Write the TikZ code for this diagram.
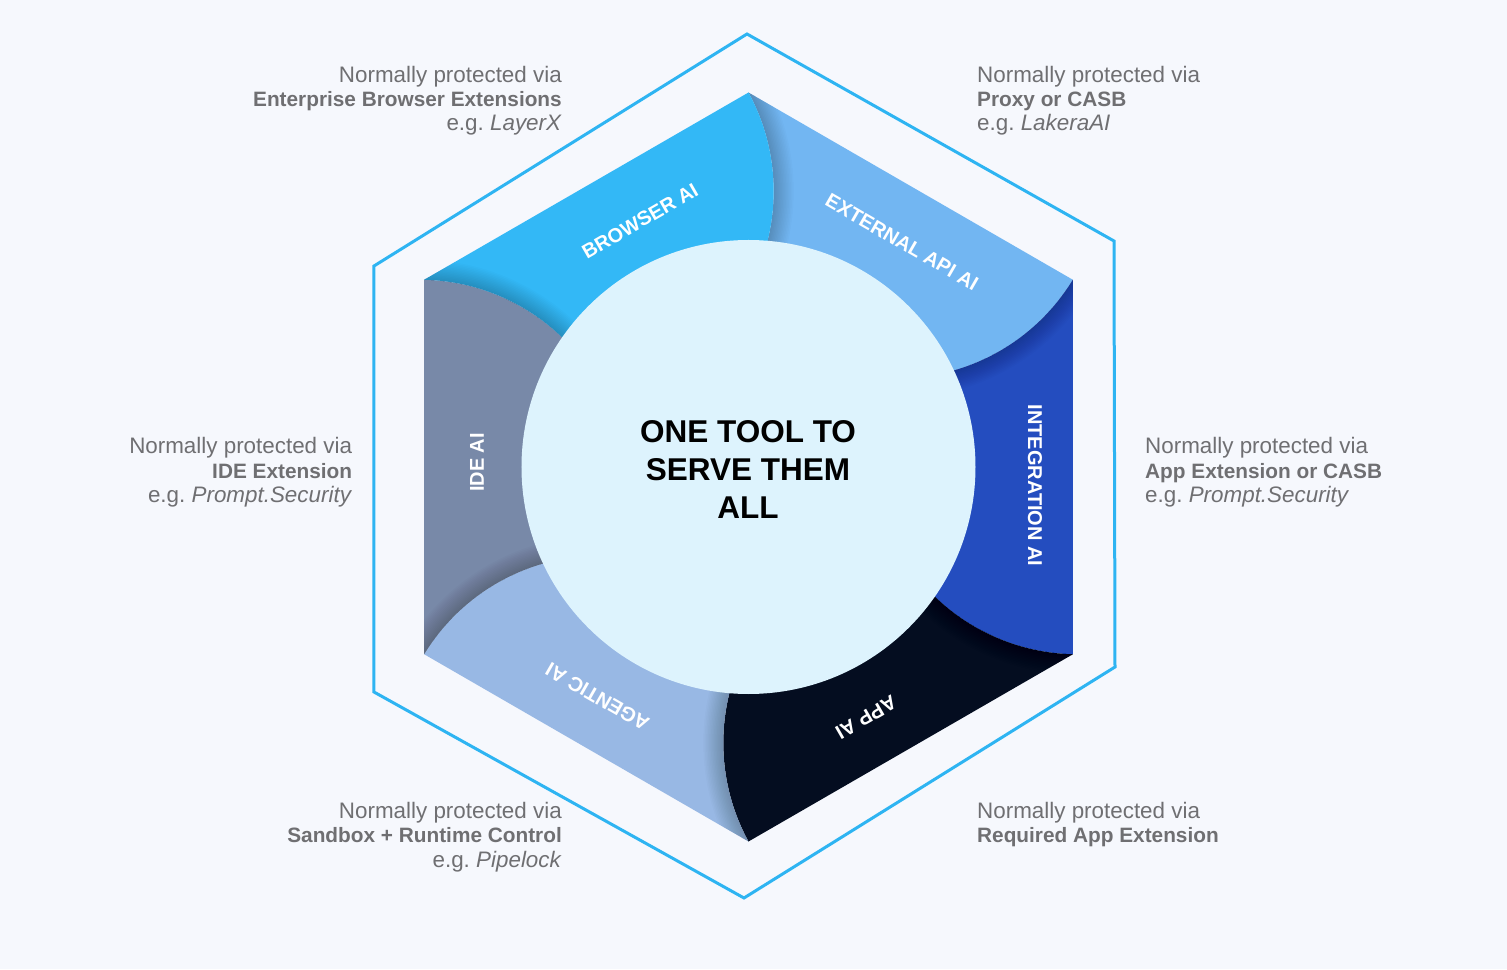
\documentclass[tikz,border=0pt]{standalone}
\usepackage{fontspec}
\setmainfont{Liberation Sans}
\frenchspacing
\definecolor{bgc}{HTML}{F6F8FD}
\definecolor{hexc}{HTML}{2EB4F2}
\definecolor{brc}{HTML}{33B8F6}
\definecolor{extc}{HTML}{72B6F2}
\definecolor{intc}{HTML}{244DBF}
\definecolor{appc}{HTML}{040D20}
\definecolor{agc}{HTML}{98B8E4}
\definecolor{idec}{HTML}{7889A8}
\definecolor{circc}{HTML}{DDF3FD}
\definecolor{txtc}{HTML}{6F6F72}
\newcommand\mysegpath[2]{(#1:374.5) -- (#2:374.5) .. controls ({#2-4.31}:330.1) and ({#2-6.53}:277.8) .. ({#2-4.81}:226.8) -- (0,0) -- ({#1-4.81}:226.8) .. controls ({#1-6.53}:277.8) and ({#1-4.31}:330.1) .. (#1:374.5) -- cycle}
\newcommand\mydivpath[1]{(#1:374.5) .. controls ({#1-4.31}:330.1) and ({#1-6.53}:277.8) .. ({#1-4.81}:226.8)}
\tikzset{
  annoR/.style={anchor=base east, inner sep=0pt, text=txtc, font=\fontsize{22.4}{26}\selectfont},
  annoRb/.style={anchor=base east, inner sep=0pt, text=txtc, font=\bfseries\fontsize{20.8}{26}\selectfont},
  annoL/.style={anchor=base west, inner sep=0pt, text=txtc, font=\fontsize{22.4}{26}\selectfont},
  annoLb/.style={anchor=base west, inner sep=0pt, text=txtc, font=\bfseries\fontsize{20.8}{26}\selectfont},
  seglabel/.style={inner sep=0pt, text=white, font=\bfseries\fontsize{20}{24}\selectfont},
  centertext/.style={anchor=base, inner sep=0pt, text=black, font=\bfseries\fontsize{31.5}{38}\selectfont},
  outerhex/.style={draw=hexc, line width=3pt, line join=miter}
}
\begin{document}
\begin{tikzpicture}[x=1pt,y=1pt]
\useasboundingbox (-748.5,-502) rectangle (758.5,467);
\fill[bgc] (-748.5,-502) rectangle (758.5,467);
% outer hexagon
\coordinate (o1) at (-1.5,433);
\coordinate (o2) at (365.5,226);
\coordinate (o3) at (366.5,-200);
\coordinate (o4) at (-4.5,-431);
\coordinate (o5) at (-374.5,-225);
\coordinate (o6) at (-374.5,201);
\draw[outerhex] (o1) -- (o2) -- (o3) -- (o4) -- (o5) -- (o6) -- cycle;
% segments
\foreach \j/\fc in {0/extc,1/intc,2/appc,3/agc,4/idec,5/brc}{
  \pgfmathsetmacro\a{90-60*\j}
  \pgfmathsetmacro\b{\a-60}
  \fill[\fc] \mysegpath{\a}{\b};
  \begin{scope}
    \clip \mysegpath{\a}{\b};
    \foreach \w in {40,37,...,1}{
      \draw[black,opacity=0.014,line width=\w pt] \mydivpath{\a};
    }
  \end{scope}
}
% central circle
\fill[circc] (0,0) circle (227);
\node[centertext] (c1) at (-0.5,24.3) {ONE TOOL TO};
\node[centertext] (c2) at (-0.5,-14) {SERVE THEM};
\node[centertext] (c3) at (-0.5,-51.3) {ALL};
% segment labels
\node[seglabel, rotate=30] (lbr) at (-108.5,246) {BROWSER AI};
\node[seglabel, rotate=-30] (lext) at (153.5,225) {EXTERNAL API AI};
\node[seglabel, rotate=-90] (lint) at (286.5,-18.5) {INTEGRATION AI};
\node[seglabel, rotate=-150] (lapp) at (117.5,-250.5) {APP AI};
\node[seglabel, rotate=150] (lag) at (-151,-230) {AGENTIC AI};
\node[seglabel, rotate=90] (lide) at (-271.5,4.5) {IDE AI};
% annotations top-left
\node[annoR] (a11) at (-186.5,384.7) {Normally protected via};
\node[annoRb] (a12) at (-186.5,360.4) {Enterprise Browser Extensions};
\node[annoR] (a13) at (-186.5,336) {e.g. \textit{LayerX}};
% top-right
\node[annoL] (a21) at (228.5,384.7) {Normally protected via};
\node[annoLb] (a22) at (228.5,360.4) {Proxy or CASB};
\node[annoL] (a23) at (228.5,336) {e.g. \textit{LakeraAI}};
% middle-left
\node[annoR] (a31) at (-396.2,13) {Normally protected via};
\node[annoRb] (a32) at (-396.2,-11.3) {IDE Extension};
\node[annoR] (a33) at (-396.2,-35.7) {e.g. \textit{Prompt.Security}};
% middle-right
\node[annoL] (a41) at (396.5,13) {Normally protected via};
\node[annoLb] (a42) at (396.5,-11.3) {App Extension or CASB};
\node[annoL] (a43) at (396.5,-35.7) {e.g. \textit{Prompt.Security}};
% bottom-left
\node[annoR] (a51) at (-186.5,-351.3) {Normally protected via};
\node[annoRb] (a52) at (-186.5,-375.7) {Sandbox + Runtime Control};
\node[annoR] (a53) at (-186.5,-400) {e.g. \textit{Pipelock}};
% bottom-right
\node[annoL] (a61) at (228.5,-351.3) {Normally protected via};
\node[annoLb] (a62) at (228.5,-375.7) {Required App Extension};
\end{tikzpicture}
\end{document}
